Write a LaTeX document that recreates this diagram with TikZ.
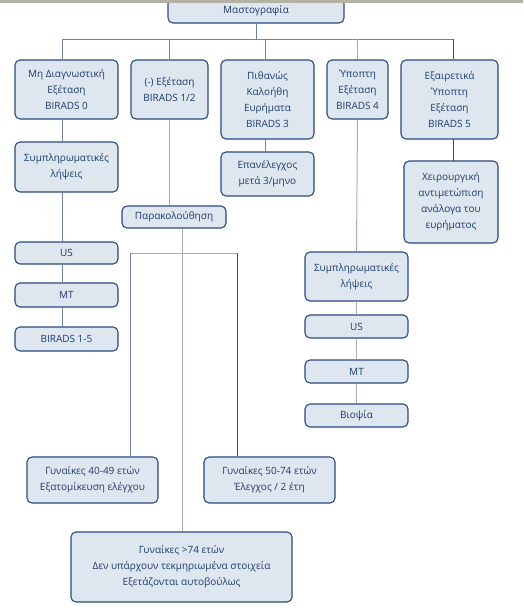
\documentclass[tikz,border=0pt]{standalone}
\usepackage{fontspec}
\setmainfont{Open Sans}
\definecolor{boxfill}{HTML}{DEE6EF}
\definecolor{boxline}{HTML}{2A4A7C}
\definecolor{txtblue}{HTML}{1E3C6E}
\definecolor{midline}{HTML}{6F83A4}
\definecolor{paleline}{HTML}{A3AEC3}
\definecolor{topbar}{HTML}{B3B2A4}
\begin{document}
\begin{tikzpicture}[x=1pt,y=-1pt,
    stepbox/.style={draw=boxline,line width=1.1pt,fill=boxfill,rounded corners=5pt,
        text=txtblue,align=center,inner sep=1pt,
        font=\fontsize{10}{16}\selectfont},
    midlink/.style={draw=midline,line width=0.9pt},
    palelink/.style={draw=paleline,line width=1pt},
    darklink/.style={draw=boxline,line width=0.9pt}]
    \useasboundingbox (0,0) rectangle (523,611);
    % top level
    \node[stepbox,minimum width=176pt,minimum height=25pt] (mast) at (256,10.5) {Μαστογραφία};
    \fill[topbar] (0,0) rectangle (523,2.5);
    \coordinate (busl) at (62,39);
    \coordinate (busr) at (453,39);
    \node[stepbox,minimum width=103pt,minimum height=59pt] (bir0) at (66.5,89.5) {Μη Διαγνωστική\\Εξέταση\\BIRADS 0};
    \node[stepbox,minimum width=77pt,minimum height=59pt] (bir12) at (169.5,89.5) {(-) Εξέταση\\BIRADS 1/2};
    \node[stepbox,minimum width=93pt,minimum height=79pt] (bir3) at (267.5,99.5) {Πιθανώς\\Καλοήθη\\Ευρήματα\\BIRADS 3};
    \node[stepbox,minimum width=61pt,minimum height=59pt] (bir4) at (357.5,89.5) {Ύποπτη\\Εξέταση\\BIRADS 4};
    \node[stepbox,minimum width=97pt,minimum height=79pt] (bir5) at (449.5,99.5) {Εξαιρετικά\\Ύποπτη\\Εξέταση\\BIRADS 5};
    \draw[midlink] (mast.south) -- (mast.south |- busl);
    \draw[midlink] (busl) -- (busr);
    \draw[midlink] (busl) -- (busl |- bir0.north);
    \draw[midlink] (bir12.north |- busl) -- (bir12.north);
    \draw[midlink] (265,39) -- (265,60);
    \draw[palelink] (bir4.north |- busl) -- (bir4.north);
    \draw[darklink] (busr) -- (busr |- bir5.north);
    % left column
    \node[stepbox,minimum width=103pt,minimum height=50pt] (symp1) at (66.5,167) {Συμπληρωματικές\\λήψεις};
    \node[stepbox,minimum width=103pt,minimum height=22pt] (us1) at (66.5,253) {US};
    \node[stepbox,minimum width=103pt,minimum height=24pt] (mt1) at (66.5,295) {MT};
    \node[stepbox,minimum width=103pt,minimum height=24pt] (bir15) at (66.5,339) {BIRADS 1-5};
    \draw[midlink] (62,119) -- (62,142);
    \draw[midlink] (62,192) -- (62,242);
    \draw[midlink] (62,264) -- (62,283);
    \draw[midlink] (62,307) -- (62,327);
    % follow-up
    \node[stepbox,minimum width=104pt,minimum height=22pt] (parak) at (174,217) {Παρακολούθηση};
    \draw[palelink] (bir12.south) -- (bir12.south |- parak.north);
    \coordinate (split) at (182,253);
    \coordinate (splitl) at (130,253);
    \coordinate (splitr) at (237,253);
    \draw[palelink] (parak.south -| split) -- (split);
    \draw[palelink] (splitl) -- (splitr);
    \node[stepbox,minimum width=131pt,minimum height=46pt] (g40) at (92.5,480) {Γυναίκες 40-49 ετών\\Εξατομίκευση ελέγχου};
    \node[stepbox,minimum width=131pt,minimum height=46pt] (g50) at (269.5,480) {Γυναίκες 50-74 ετών\\Έλεγχος / 2 έτη};
    \node[stepbox,minimum width=221pt,minimum height=70pt] (g74) at (181.5,567) {Γυναίκες >74 ετών\\Δεν υπάρχουν τεκμηριωμένα στοιχεία\\Εξετάζονται αυτοβούλως};
    \draw[midlink] (splitl) -- (splitl |- g40.north);
    \draw[darklink] (splitr) -- (splitr |- g50.north);
    \draw[palelink] (split) -- (split |- g74.north);
    % BIRADS 3
    \node[stepbox,minimum width=93pt,minimum height=44pt] (epan) at (267.5,174) {Επανέλεγχος\\μετά 3/μηνο};
    \draw[midlink] (265,139) -- (265,152);
    % BIRADS 4
    \node[stepbox,minimum width=103pt,minimum height=49pt] (symp2) at (356.5,276.5) {Συμπληρωματικές\\λήψεις};
    \node[stepbox,minimum width=103pt,minimum height=23pt] (us2) at (356.5,326.5) {US};
    \node[stepbox,minimum width=103pt,minimum height=23pt] (mt2) at (356.5,371.5) {MT};
    \node[stepbox,minimum width=103pt,minimum height=23pt] (biop) at (356.5,415.5) {Βιοψία};
    \draw[palelink] (bir4.south) -- (symp2.north);
    \draw[palelink] (symp2.south) -- (us2.north);
    \draw[palelink] (us2.south) -- (mt2.north);
    \draw[palelink] (mt2.south) -- (biop.north);
    % BIRADS 5
    \node[stepbox,minimum width=94pt,minimum height=82pt] (xeir) at (451,202) {Χειρουργική\\αντιμετώπιση\\ανάλογα του\\ευρήματος};
    \draw[darklink] (453,139) -- (453,161);
\end{tikzpicture}
\end{document}
